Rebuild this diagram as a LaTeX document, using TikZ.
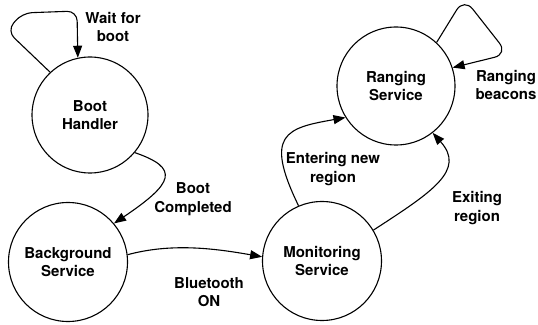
\documentclass[tikz,border=0pt]{standalone}
\usepackage{fontspec}
\setmainfont{TeX Gyre Heros}
\usetikzlibrary{arrows.meta}
\tikzset{
  service/.style = {circle, draw=black, line width=1.1pt, minimum size=119pt, inner sep=0pt, align=center, font=\fontsize{15}{18.5}\selectfont\bfseries},
  transition/.style = {draw=black, line width=1.1pt, -{Triangle[length=12pt, width=9pt]}},
  edgetext/.style = {align=center, inner sep=0pt, font=\fontsize{15}{18.5}\selectfont\bfseries}
}

\begin{document}
\begin{tikzpicture}[x=1pt, y=1pt]
\useasboundingbox (0,0) rectangle (538,324);
% STATES
\node (Boot) [service, minimum size=116pt] at (90,209) {Boot\\Handler};
\node (Background) [service] at (68,62) {Background\\Service};
\node (Monitoring) [service] at (322,63) {Monitoring\\Service};
\node (Ranging) [service, minimum size=118pt] at (396,238) {Ranging\\Service};
% TRANSITIONS
\draw [transition, rounded corners=10pt] (Boot.133) -- (7,293) -- (22,311) -- (77,313) -- (Boot.102);
\draw [transition] (Boot.-40) .. controls +(-19:48pt) and +(34:72pt) .. (Background.40);
\draw [transition] (Background.7) .. controls +(15:45pt) and +(170:50pt) .. (Monitoring.176);
\draw [transition] (Monitoring.113) .. controls +(116:80pt) and +(190:60pt) .. (Ranging.212);
\draw [transition] (Monitoring.31) .. controls +(33:70pt) and +(-48:50pt) .. (Ranging.-52);
\draw [transition, rounded corners=14pt] (Ranging.47) -- (464,326) -- (508,270) -- (Ranging.18);
% LABELS
\node (WaitText) [edgetext] at (113,297) {Wait for\\boot};
\node (CompletedText) [edgetext] at (193,125) {Boot\\Completed};
\node (BluetoothText) [edgetext] at (209,32) {Bluetooth\\ON};
\node (EnteringText) [edgetext] at (333,155) {Entering new\\region};
\node (ExitingText) [edgetext] at (477,116) {Exiting\\region};
\node (BeaconsText) [edgetext] at (506,239) {Ranging\\beacons};
\end{tikzpicture}
\end{document}
